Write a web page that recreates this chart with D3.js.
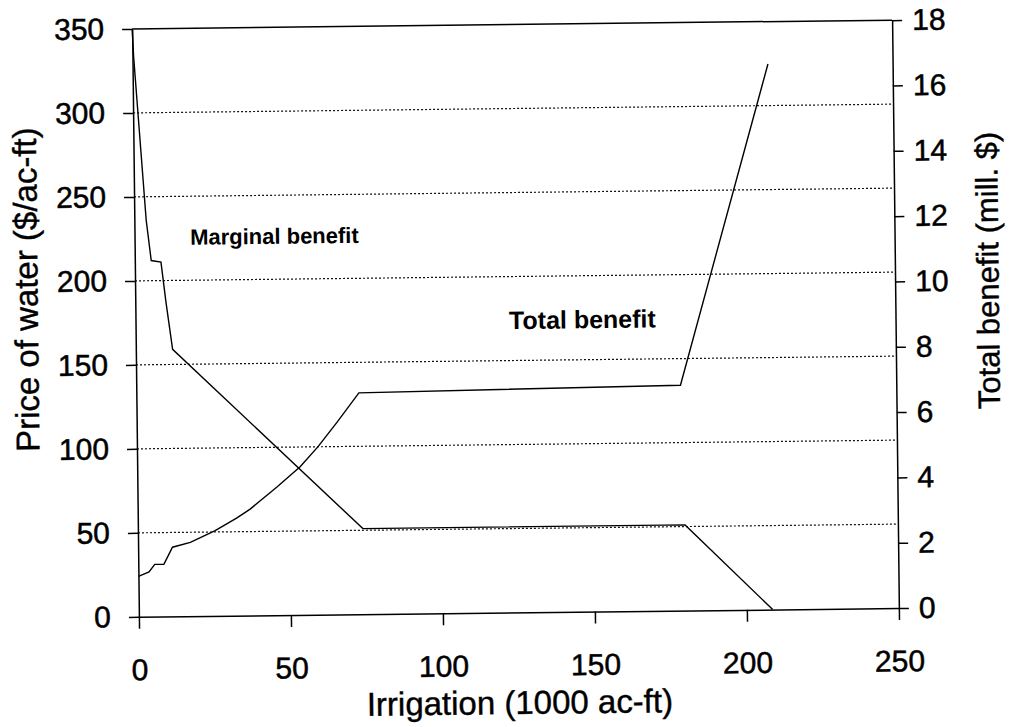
<!DOCTYPE html>
<html>
<head>
<meta charset="utf-8">
<script src="https://cdn.jsdelivr.net/npm/d3@7"></script>
<style>
  body { margin: 0; background: #fff; }
  svg { font-family: "Liberation Sans", Arial, sans-serif; }
  .axis path, .axis line { stroke: #000; stroke-width: 1.5; }
  .axis text { fill: #000; stroke: #000; stroke-width: 0.5; }
  .title { fill: #000; stroke: #000; stroke-width: 0.4; }
</style>
</head>
<body>
<svg id="chart" width="1011" height="727"></svg>
<script>
// Irrigation (1000 ac-ft) and price of water ($/ac-ft)
var mbIrrigation = [0, 0.4, 3.9, 5.4, 8.6, 10.1, 12.1, 74, 180, 208.5];
var mbPrice      = [350, 333, 236, 212, 211, 187, 159, 51, 51, 0];

// Irrigation (1000 ac-ft) and total benefit (mill. $)
var tbIrrigation = [0, 3.5, 5.4, 8.4, 9.8, 11.3, 17.2, 25.4, 32.5, 37, 45.8, 53.6, 59.5, 66, 73.2, 179, 209];
var tbBenefit    = [1.24, 1.37, 1.6, 1.6, 1.85, 2.12, 2.26, 2.61, 2.99, 3.26, 3.92, 4.54, 5.14, 5.9, 6.78, 6.9, 16.7];

var xTicks = [0, 50, 100, 150, 200, 250];
var leftTicks = [0, 50, 100, 150, 200, 250, 300, 350];
var rightTicks = [0, 2, 4, 6, 8, 10, 12, 14, 16, 18];
var gridValues = [50, 100, 150, 200, 250, 300];

const plotLeft = 135.5, plotRight = 895.5, plotTop = 24.5, plotBottom = 612.5;

var svg = d3.select("#chart");
svg.append("rect").attr("width", 1011).attr("height", 727).attr("fill", "#fff");

// the scanned figure is tilted a little
var chart = svg.append("g")
    .attr("transform", "rotate(-0.66, 515.5, 318.5)");

var xScale = d3.scaleLinear().domain([0, 250]).range([plotLeft, plotRight]);
var yLeft = d3.scaleLinear().domain([0, 350]).range([plotBottom, plotTop]);
var yRight = d3.scaleLinear().domain([0, 18]).range([plotBottom, plotTop]);

/**** Grid ****/
chart.selectAll(".grid")
    .data(gridValues)
    .enter()
    .append("line")
    .attr("class", "grid")
    .attr("x1", plotLeft)
    .attr("x2", plotRight)
    .attr("y1", function(d) { return yLeft(d); })
    .attr("y2", function(d) { return yLeft(d); })
    .attr("stroke", "#111")
    .attr("stroke-width", 1.2)
    .attr("stroke-dasharray", "2,2");

// top border
chart.append("line")
    .attr("x1", plotLeft).attr("x2", plotRight)
    .attr("y1", plotTop).attr("y2", plotTop)
    .attr("stroke", "#000").attr("stroke-width", 1.5);

/**** Axes ****/
chart.append("g")
    .attr("class", "axis")
    .attr("transform", "translate(" + plotLeft + ",0)")
    .call(d3.axisLeft(yLeft).tickValues(leftTicks).tickSize(10).tickSizeOuter(0).tickPadding(18))
    .selectAll("text")
    .style("font-size", "30px");

chart.append("g")
    .attr("class", "axis")
    .attr("transform", "translate(" + plotRight + ",0)")
    .call(d3.axisRight(yRight).tickValues(rightTicks).tickSize(10).tickSizeOuter(0).tickPadding(10))
    .selectAll("text")
    .style("font-size", "30px");

chart.append("g")
    .attr("class", "axis")
    .attr("transform", "translate(0," + plotBottom + ")")
    .call(d3.axisBottom(xScale).tickValues(xTicks).tickSize(12).tickSizeOuter(0).tickPadding(30))
    .selectAll("text")
    .style("font-size", "30px");

/**** Curves ****/
var mbLine = d3.line()
    .x(function(d, i) { return xScale(mbIrrigation[i]); })
    .y(function(d) { return yLeft(d); });

var tbLine = d3.line()
    .x(function(d, i) { return xScale(tbIrrigation[i]); })
    .y(function(d) { return yRight(d); });

chart.append("path")
    .attr("d", mbLine(mbPrice))
    .attr("fill", "none")
    .attr("stroke", "#000")
    .attr("stroke-width", 1.4);

chart.append("path")
    .attr("d", tbLine(tbBenefit))
    .attr("fill", "none")
    .attr("stroke", "#000")
    .attr("stroke-width", 1.4);

/**** Labels ****/
chart.append("text")
    .attr("x", 191).attr("y", 241)
    .style("font-size", "22px").style("font-weight", "bold")
    .text("Marginal benefit");

chart.append("text")
    .attr("x", 509).attr("y", 329)
    .style("font-size", "25px").style("font-weight", "bold")
    .text("Total benefit");

chart.append("text")
    .attr("class", "title")
    .attr("x", (plotLeft + plotRight) / 2).attr("y", 714)
    .attr("text-anchor", "middle")
    .style("font-size", "33px")
    .text("Irrigation (1000 ac-ft)");

chart.append("text")
    .attr("class", "title")
    .attr("transform", "translate(38,284) rotate(-90)")
    .attr("text-anchor", "middle")
    .style("font-size", "33px")
    .text("Price of water ($/ac-ft)");

chart.append("text")
    .attr("class", "title")
    .attr("transform", "translate(999,276) rotate(-90)")
    .attr("text-anchor", "middle")
    .style("font-size", "31px")
    .text("Total benefit (mill. $)");
</script>
</body>
</html>
